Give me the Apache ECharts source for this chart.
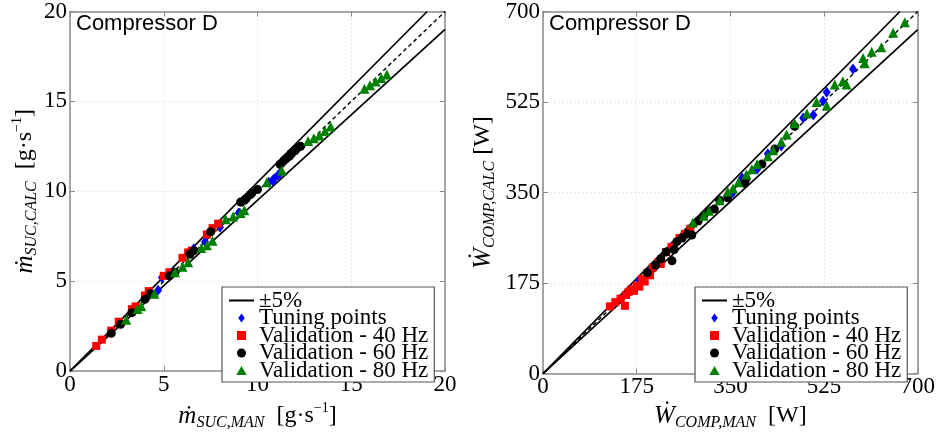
<!DOCTYPE html>
<html>
<head>
<meta charset="utf-8">
<script src="https://cdn.jsdelivr.net/npm/echarts@6/dist/echarts.min.js"></script>
<style>
  html, body { margin: 0; padding: 0; background: #fff; }
  #main { width: 938px; height: 436px; }
</style>
</head>
<body>
<div id="main"></div>
<script>
// axis ranges / ticks
var massTicks = [0, 5, 10, 15, 20];
var powerTicks = [0, 175, 350, 525, 700];

var legendNames = ['±5%', 'Tuning points', 'Validation - 40 Hz', 'Validation - 60 Hz', 'Validation - 80 Hz'];

// left plot: mass flow [g/s]  (measured, calculated)
var tuneMass = [[4.7,4.5],[4.9,5.2],[5.5,5.5],[6.6,6.8],[7.2,7.2],[8.0,8.0],[9.0,8.8],[10.6,10.5],[10.8,10.6],[10.9,10.7],[11.1,10.9],[11.2,11.0]];
var hz40Mass = [[1.4,1.4],[1.7,1.75],[2.2,2.25],[2.6,2.75],[3.3,3.45],[3.5,3.6],[4.0,4.2],[4.2,4.45],[5.0,5.3],[5.3,5.5],[6.0,6.3],[6.3,6.6],[6.5,6.7],[7.3,7.6],[7.6,7.95],[7.9,8.2]];
var hz60Mass = [[2.2,2.1],[2.7,2.6],[3.3,3.25],[4.0,4.0],[4.3,4.3],[5.3,5.3],[5.6,5.5],[6.4,6.5],[6.6,6.7],[7.5,7.75],[9.1,9.4],[9.3,9.5],[9.4,9.6],[9.6,9.8],[9.7,9.9],[10.0,10.1],[11.2,11.5],[11.4,11.7],[11.5,11.8],[11.7,11.95],[11.8,12.1],[12.0,12.25],[12.1,12.4],[12.3,12.5]];
var hz80Mass = [[3.0,2.85],[3.6,3.45],[3.8,3.6],[4.5,4.3],[5.6,5.5],[6.0,5.8],[6.3,6.05],[7.0,6.85],[7.3,7.0],[7.6,7.25],[8.3,8.45],[8.7,8.6],[9.1,8.8],[9.3,8.95],[10.5,10.5],[11.3,11.15],[12.7,12.8],[13.0,12.95],[13.3,13.1],[13.6,13.35],[13.9,13.6],[15.7,15.7],[16.0,15.9],[16.3,16.1],[16.6,16.3],[16.9,16.5]];

// right plot: compressor power [W]
var tunePower = [[180,180],[200,200],[240,245],[270,272],[330,335],[355,350],[372,378],[400,395],[420,425],[445,440],[486,494],[505,500],[523,527],[530,544],[579,589]];
var hz40Power = [[125,130],[135,138],[145,145],[153,131],[155,152],[160,158],[165,163],[170,160],[175,170],[180,168],[185,183],[190,178],[195,195],[200,190],[205,205],[215,215],[220,212],[230,235],[240,245],[255,262],[265,270],[275,280]];
var hz60Power = [[195,195],[210,210],[220,222],[230,235],[241,218],[245,240],[250,255],[260,262],[270,270],[278,268],[290,295],[300,305],[310,315],[320,318],[330,335],[345,340],[377,368],[379,376],[409,405],[433,434],[470,478]];
var hz80Power = [[280,292],[300,305],[310,315],[330,335],[345,352],[355,358],[365,370],[380,385],[390,395],[400,405],[420,420],[430,432],[445,448],[455,462],[470,484],[493,503],[511,525],[530,518],[545,559],[567,559],[560,565],[598,610],[601,600],[614,622],[632,631],[654,659],[676,679]];

var serif = 'Liberation Serif';
var sans = 'Liberation Sans';
var frameColor = '#8a8a8a';

var nameRich = {
  m: { fontFamily: serif, fontStyle: 'italic', fontSize: 25, lineHeight: 30, verticalAlign: 'middle', color: '#000' },
  sub: { fontFamily: serif, fontStyle: 'italic', fontSize: 16, lineHeight: 16, verticalAlign: 'bottom', color: '#000' },
  u: { fontFamily: serif, fontSize: 24, lineHeight: 30, verticalAlign: 'middle', color: '#000' },
  sup: { fontFamily: serif, fontSize: 14, lineHeight: 14, verticalAlign: 'top', color: '#000' }
};

function mainX(grid, ticks, name) {
  return {
    type: 'value', gridIndex: grid, position: 'bottom',
    min: ticks[0], max: ticks[ticks.length - 1], interval: ticks[1] - ticks[0],
    name: name, nameLocation: 'middle', nameGap: 20,
    nameTextStyle: { rich: nameRich },
    axisLine: { show: true, lineStyle: { color: frameColor, width: 1.5 } },
    axisTick: { show: true, inside: true, length: 5, lineStyle: { color: frameColor } },
    axisLabel: { color: '#000', fontFamily: serif, fontSize: 23, margin: 2 },
    splitLine: { show: true, lineStyle: { color: '#d4d4d4', type: [1, 3] } }
  };
}
function mainY(grid, ticks, name, gap) {
  return {
    type: 'value', gridIndex: grid, position: 'left',
    min: ticks[0], max: ticks[ticks.length - 1], interval: ticks[1] - ticks[0],
    name: name, nameLocation: 'middle', nameGap: gap,
    nameTextStyle: { rich: nameRich },
    axisLine: { show: true, lineStyle: { color: frameColor, width: 1.5 } },
    axisTick: { show: true, inside: true, length: 5, lineStyle: { color: frameColor } },
    axisLabel: { color: '#000', fontFamily: serif, fontSize: 23, margin: 3 },
    splitLine: { show: true, lineStyle: { color: '#d4d4d4', type: [1, 3] } }
  };
}
function mirror(grid, ticks, pos) {
  return {
    type: 'value', gridIndex: grid, position: pos,
    min: ticks[0], max: ticks[ticks.length - 1], interval: ticks[1] - ticks[0],
    axisLine: { show: true, onZero: false, lineStyle: { color: frameColor, width: 1.5 } },
    axisTick: { show: true, inside: true, length: 5, lineStyle: { color: frameColor } },
    axisLabel: { show: false },
    splitLine: { show: false }
  };
}

function refLines(xi, yi, top) {
  var lineStyle = { color: '#000', width: 1.7 };
  return [
    { name: '±5%', type: 'line', xAxisIndex: xi, yAxisIndex: yi, symbol: 'none', z: 2,
      itemStyle: { color: '#000' }, lineStyle: lineStyle, data: [[0, 0], [top / 1.05, top]] },
    { name: '±5%', type: 'line', xAxisIndex: xi, yAxisIndex: yi, symbol: 'none', z: 2,
      itemStyle: { color: '#000' }, lineStyle: lineStyle, data: [[0, 0], [top, top * 0.95]] },
    { name: 'diag', type: 'line', xAxisIndex: xi, yAxisIndex: yi, symbol: 'none', z: 2,
      lineStyle: { color: '#000', width: 1.4, type: [4, 3] }, data: [[0, 0], [top, top]] }
  ];
}

function scatters(xi, yi, tune, h40, h60, h80) {
  return [
    { name: 'Tuning points', type: 'scatter', xAxisIndex: xi, yAxisIndex: yi, z: 3,
      symbol: 'diamond', symbolSize: [8, 11], itemStyle: { color: '#0000ff', opacity: 1 }, data: tune },
    { name: 'Validation - 40 Hz', type: 'scatter', xAxisIndex: xi, yAxisIndex: yi, z: 3,
      symbol: 'rect', symbolSize: 8, itemStyle: { color: '#ff0000', opacity: 1 }, data: h40 },
    { name: 'Validation - 60 Hz', type: 'scatter', xAxisIndex: xi, yAxisIndex: yi, z: 3,
      symbol: 'circle', symbolSize: 9, itemStyle: { color: '#000000', opacity: 1 }, data: h60 },
    { name: 'Validation - 80 Hz', type: 'scatter', xAxisIndex: xi, yAxisIndex: yi, z: 3,
      symbol: 'triangle', symbolSize: 10, itemStyle: { color: '#008000', opacity: 1 }, data: h80 }
  ];
}

function legendAt(left) {
  return {
    data: [
      { name: legendNames[0], itemStyle: { opacity: 0 } },
      { name: legendNames[1], icon: 'path://M0,-5L3.6,0L0,5L-3.6,0Z', itemStyle: { opacity: 1 } },
      { name: legendNames[2], icon: 'path://M0,0H8V8H0Z', itemStyle: { opacity: 1 } },
      { name: legendNames[3], icon: 'path://M0,4A4,4,0,1,1,8,4A4,4,0,1,1,0,4Z', itemStyle: { opacity: 1 } },
      { name: legendNames[4], icon: 'path://M4,0L8,7L0,7Z', itemStyle: { opacity: 1 } }
    ],
    orient: 'vertical', left: left, top: 287,
    itemWidth: 25, itemHeight: 9, itemGap: -5.5,
    symbolKeepAspect: true,
    padding: [2, 6, 0, 6],
    borderColor: '#555', borderWidth: 1.2, borderRadius: 0, backgroundColor: '#fff',
    selectedMode: false,
    textStyle: { fontFamily: serif, fontSize: 23, lineHeight: 17, color: '#000' }
  };
}

var chart = echarts.init(document.getElementById('main'), null, { renderer: 'canvas' });

chart.setOption({
  backgroundColor: '#fff',
  animation: false,
  title: [
    { text: 'Compressor D', left: 76, top: 13, padding: 0, textStyle: { fontFamily: sans, fontSize: 22, fontWeight: 'normal', color: '#000' } },
    { text: 'Compressor D', left: 549, top: 13, padding: 0, textStyle: { fontFamily: sans, fontSize: 22, fontWeight: 'normal', color: '#000' } }
  ],
  grid: [
    { left: 70, right: 493, top: 10, bottom: 53 },
    { left: 543, right: 20, top: 10, bottom: 53 }
  ],
  legend: [legendAt(222), legendAt(695)],
  xAxis: [
    mainX(0, massTicks, '{m|ṁ}{sub|SUC,MAN}{u|  [g·s}{sup|−1}{u|]}'),
    mainX(1, powerTicks, '{m|Ẇ}{sub|COMP,MAN}{u|  [W]}'),
    mirror(0, massTicks, 'top'),
    mirror(1, powerTicks, 'top')
  ],
  yAxis: [
    mainY(0, massTicks, '{m|ṁ}{sub|SUC,CALC}{u|  [g·s}{sup|−1}{u|]}', 30),
    mainY(1, powerTicks, '{m|Ẇ}{sub|COMP,CALC}{u| [W]}', 45),
    mirror(0, massTicks, 'right'),
    mirror(1, powerTicks, 'right')
  ],
  series: [].concat(
    refLines(0, 0, 20),
    scatters(0, 0, tuneMass, hz40Mass, hz60Mass, hz80Mass),
    refLines(1, 1, 700),
    scatters(1, 1, tunePower, hz40Power, hz60Power, hz80Power)
  )
});
</script>
</body>
</html>
